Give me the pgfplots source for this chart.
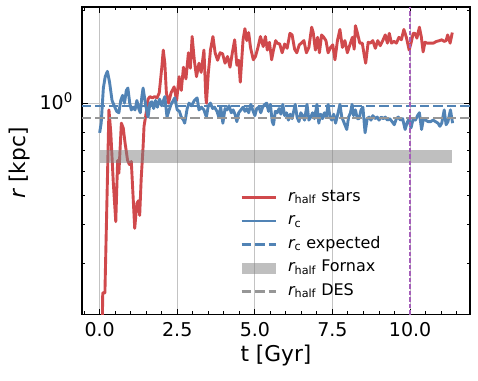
\documentclass[border=0pt]{standalone}
\usepackage{fontspec}
\setmainfont{DejaVu Sans}
\usepackage{pgfplots}
\pgfplotsset{compat=1.18}
\definecolor{cred}{RGB}{208,73,76}
\definecolor{cblue}{RGB}{81,131,181}
\definecolor{cgray}{RGB}{150,150,150}
\definecolor{cband}{RGB}{128,128,128}
\definecolor{cpurple}{RGB}{165,95,185}
\definecolor{cgrid}{RGB}{195,195,195}
\begin{document}
\begin{tikzpicture}
\useasboundingbox (-82bp,-66.5bp) rectangle (396bp,314.5bp);
\begin{axis}[
  at={(0,0)}, anchor=south west,
  scale only axis, width=388bp, height=307.5bp,
  xmin=-0.568, xmax=11.93,
  ymode=log, ymin=0.204, ymax=2.06,
  xtick={0,2.5,5,7.5,10},
  xticklabels={0.0,2.5,5.0,7.5,10.0},
  minor xtick={-0.5,0.5,1,1.5,2,3,3.5,4,4.5,5.5,6,6.5,7,8,8.5,9,9.5,10.5,11,11.5},
  ytick={1},
  yticklabels={10\textsuperscript{0}},
  minor ytick={0.3,0.4,0.5,0.6,0.7,0.8,0.9,2},
  tick align=inside,
  xtick pos=both, ytick pos=both,
  major tick length=6bp, minor tick length=3.5bp,
  every tick/.style={black, line width=1bp},
  axis line style={line width=1.6bp},
  grid=major,
  major grid style={line width=0.9bp, cgrid},
  tick label style={font=\fontsize{19bp}{22bp}\selectfont},
  xticklabel style={anchor=base, yshift=-22.2bp, inner sep=0pt},
  yticklabel style={anchor=base east, xshift=-9bp, yshift=-6.7bp, inner sep=0pt},
  label style={font=\fontsize{21.7bp}{25bp}\selectfont},
  xlabel={t [Gyr]},
  ylabel={{\itshape r} [kpc]},
  xlabel style={at={(axis description cs:0.5,0)}, anchor=base, yshift=-47.2bp, inner sep=0pt},
  ylabel style={at={(axis description cs:-0.16,0.493)}, anchor=center, inner sep=0pt},
  legend style={draw=none, fill=none, at={(axis description cs:0.4072,0.4047)}, anchor=north west,
    font=\fontsize{16bp}{18bp}\selectfont, inner sep=0pt, row sep=9bp, column sep=11bp,
    nodes={inner sep=0pt, text height=11bp, text depth=3.5bp}},
  legend cell align=left,
]
\addplot[cred, line width=2.9bp, line join=round,
  legend image code/.code={\draw[cred, line width=2.9bp] (0bp,0bp) -- (34bp,0bp);}]
coordinates {
(0.08,0.17)(0.10,0.24)(0.17,0.24)(0.30,0.95)(0.36,0.80)(0.44,0.55)(0.52,0.41)(0.58,0.65)
(0.62,0.59)(0.70,0.86)(0.76,0.83)(0.82,0.74)(0.90,0.65)(0.96,0.63)(1.02,0.645)(1.13,0.39)
(1.20,0.47)(1.25,0.48)(1.29,0.43)(1.34,0.57)(1.40,0.72)(1.43,0.84)(1.50,0.93)(1.56,1.03)
(1.62,1.05)(1.70,1.04)(1.77,1.05)(1.85,1.04)(1.92,1.08)(2.00,1.30)(2.05,1.49)(2.10,1.35)
(2.15,1.08)(2.22,1.00)(2.30,1.08)(2.40,1.13)(2.48,1.02)(2.56,1.22)(2.63,1.10)(2.70,1.31)
(2.78,1.20)(2.86,1.46)(2.92,1.30)(2.98,1.65)(3.05,1.38)(3.12,1.22)(3.20,1.35)(3.27,1.26)
(3.36,1.49)(3.42,1.05)(3.44,1.00)(3.50,1.25)(3.57,1.49)(3.65,1.65)(3.72,1.46)(3.80,1.38)
(3.88,1.46)(3.96,1.45)(4.04,1.35)(4.12,1.42)(4.20,1.31)(4.27,1.45)(4.35,1.61)(4.42,1.33)
(4.48,1.38)(4.53,1.17)(4.62,1.61)(4.68,1.75)(4.74,1.60)(4.80,1.70)(4.86,1.52)(4.95,1.385)
(5.02,1.42)(5.10,1.52)(5.18,1.65)(5.27,1.53)(5.34,1.65)(5.40,1.49)(5.47,1.58)(5.54,1.385)
(5.60,1.49)(5.67,1.60)(5.72,1.57)(5.80,1.56)(5.88,1.46)(5.96,1.56)(6.04,1.51)(6.13,1.69)
(6.20,1.67)(6.28,1.50)(6.35,1.46)(6.43,1.55)(6.50,1.57)(6.58,1.60)(6.66,1.46)(6.74,1.52)
(6.83,1.77)(6.88,1.70)(6.95,1.49)(7.02,1.64)(7.08,1.46)(7.15,1.67)(7.22,1.64)(7.29,1.60)
(7.36,1.46)(7.44,1.52)(7.51,1.55)(7.58,1.385)(7.66,1.60)(7.74,1.74)(7.82,1.52)(7.90,1.60)
(7.98,1.46)(8.06,1.55)(8.14,1.64)(8.20,1.50)(8.24,1.79)(8.30,1.70)(8.38,1.57)(8.46,1.57)
(8.53,1.42)(8.57,1.35)(8.65,1.58)(8.72,1.57)(8.80,1.60)(8.88,1.51)(8.96,1.60)(9.04,1.54)
(9.12,1.60)(9.20,1.67)(9.27,1.57)(9.33,1.69)(9.40,1.57)(9.48,1.59)(9.56,1.57)(9.64,1.64)
(9.72,1.61)(9.80,1.74)(9.88,1.64)(9.97,1.49)(10.03,1.57)(10.10,1.69)(10.16,1.69)(10.22,1.63)
(10.30,1.77)(10.36,1.65)(10.42,1.47)(10.48,1.58)(10.55,1.57)(10.65,1.57)(10.75,1.57)
(10.85,1.59)(10.95,1.60)(11.02,1.61)(11.10,1.59)(11.16,1.60)(11.21,1.67)(11.29,1.57)(11.36,1.70)
};
\addlegendentry{{\itshape r}\textsubscript{half} stars}
\addplot[cblue, line width=2.9bp, line join=round,
  legend image code/.code={\draw[cblue, line width=2.9bp] (0bp,0bp) -- (34bp,0bp);}]
coordinates {
(0.00,0.80)(0.05,0.86)(0.12,1.12)(0.18,1.22)(0.25,1.27)(0.32,1.17)(0.40,1.02)(0.47,0.98)
(0.55,0.94)(0.62,0.93)(0.68,1.02)(0.74,1.06)(0.80,1.00)(0.86,1.10)(0.91,1.12)(0.97,1.00)
(1.02,0.95)(1.08,0.97)(1.14,0.95)(1.20,1.02)(1.26,0.96)(1.31,0.93)(1.36,1.05)(1.40,1.12)
(1.46,1.02)(1.52,0.94)(1.56,0.90)(1.62,1.00)(1.68,1.01)(1.74,0.96)(1.80,1.02)(1.86,0.97)
(1.93,1.03)(2.00,0.98)(2.10,1.05)(2.17,0.90)(2.24,0.95)(2.30,0.99)(2.42,1.04)(2.50,0.95)
(2.57,0.94)(2.63,0.90)(2.70,0.88)(2.74,0.86)(2.82,0.96)(2.88,1.00)(2.96,0.98)(3.05,1.02)
(3.14,1.04)(3.20,0.95)(3.28,0.97)(3.36,0.95)(3.44,0.90)(3.50,0.98)(3.57,1.00)(3.64,0.96)
(3.70,0.97)(3.78,0.94)(3.84,0.90)(3.90,0.97)(3.97,0.86)(4.04,0.96)(4.10,0.95)(4.17,0.98)
(4.24,0.93)(4.30,0.95)(4.36,0.92)(4.42,0.87)(4.48,0.93)(4.55,0.95)(4.62,0.97)(4.68,0.94)
(4.74,0.96)(4.80,0.93)(4.87,0.99)(4.93,0.95)(5.00,0.91)(5.06,0.96)(5.13,0.97)(5.19,0.93)
(5.25,0.97)(5.32,0.99)(5.38,1.00)(5.44,0.94)(5.50,0.99)(5.56,0.87)(5.60,0.85)(5.66,0.94)
(5.72,0.93)(5.78,0.96)(5.84,0.92)(5.90,0.99)(5.96,0.91)(6.02,0.93)(6.08,0.88)(6.14,0.92)
(6.20,0.89)(6.25,0.94)(6.30,0.99)(6.36,0.90)(6.42,0.87)(6.48,0.93)(6.54,0.91)(6.60,0.88)
(6.68,0.99)(6.74,0.88)(6.80,0.90)(6.86,0.93)(6.92,0.89)(7.00,0.99)(7.06,0.86)(7.12,0.92)
(7.18,0.89)(7.24,0.93)(7.30,0.90)(7.36,0.99)(7.42,0.90)(7.48,0.88)(7.54,0.92)(7.60,0.86)
(7.66,0.91)(7.74,0.99)(7.80,0.90)(7.86,0.87)(7.92,0.84)(7.96,0.82)(8.02,0.90)(8.08,0.93)
(8.13,0.99)(8.18,0.91)(8.24,0.95)(8.30,0.89)(8.36,0.89)(8.42,0.95)(8.48,0.97)(8.55,0.80)
(8.62,0.89)(8.68,0.90)(8.74,0.88)(8.80,0.91)(8.87,0.89)(8.94,0.90)(9.00,0.88)(9.07,0.90)
(9.14,0.89)(9.20,0.90)(9.27,0.88)(9.34,0.89)(9.42,0.87)(9.49,0.85)(9.56,0.89)(9.62,0.90)
(9.69,0.88)(9.76,0.89)(9.84,0.82)(9.90,0.86)(9.96,0.89)(10.03,0.83)(10.10,0.89)(10.17,0.88)
(10.24,0.91)(10.30,0.93)(10.37,0.82)(10.43,0.89)(10.50,0.88)(10.58,0.87)(10.66,0.87)
(10.74,0.88)(10.82,0.87)(10.90,0.86)(10.96,0.84)(11.02,0.86)(11.10,0.95)(11.16,0.85)
(11.22,0.87)(11.30,0.95)(11.37,0.86)
};
\addlegendentry{{\itshape r}\textsubscript{c}}
\addplot[cblue, line width=2.5bp, dash pattern=on 9.5bp off 4bp,
  legend image code/.code={\draw[cblue, line width=2.5bp, dash pattern=on 9.5bp off 4bp] (0bp,0bp) -- (34bp,0bp);}]
coordinates {(-0.568,0.978)(11.93,0.978)};
\addlegendentry{{\itshape r}\textsubscript{c} expected}
\addplot[draw=none, fill=cband, fill opacity=0.5,
  legend image code/.code={\fill[cband, fill opacity=0.5] (0bp,-5.5bp) rectangle (34bp,5.5bp);}]
coordinates {(0,0.637)(11.36,0.637)(11.36,0.702)(0,0.702)} -- cycle;
\addlegendentry{{\itshape r}\textsubscript{half} Fornax}
\addplot[cgray, line width=2.5bp, dash pattern=on 9.5bp off 4bp,
  legend image code/.code={\draw[cgray, line width=2.5bp, dash pattern=on 9.5bp off 4bp] (0bp,0bp) -- (34bp,0bp);}]
coordinates {(-0.568,0.893)(11.93,0.893)};
\addlegendentry{{\itshape r}\textsubscript{half} DES}
\addplot[cpurple, line width=1.2bp, dash pattern=on 4.5bp off 2bp, forget plot]
coordinates {(10,0.204)(10,2.06)};
\end{axis}
\end{tikzpicture}
\end{document}
